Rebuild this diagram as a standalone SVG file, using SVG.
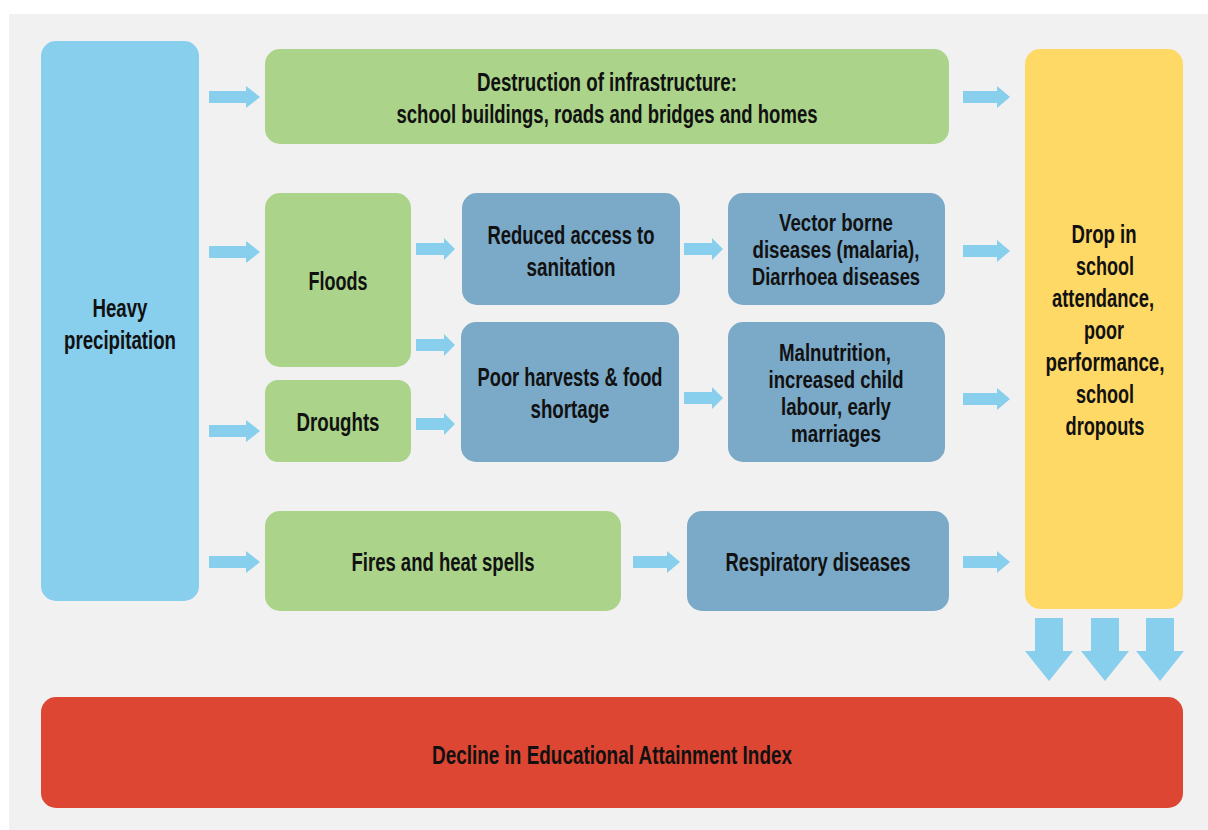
<svg xmlns="http://www.w3.org/2000/svg" width="1208" height="830" viewBox="0 0 1208 830">
  <style>
    .t { font-family: "Liberation Sans", Arial, sans-serif; font-weight: bold; font-size: 26px; fill: #111; text-anchor: middle; }
    .tight { font-size: 23px; }
    .sky { fill: #88CEED; }
    .green { fill: #ABD48A; }
    .steel { fill: #7BA9C8; }
    .yellow { fill: #FFD966; }
    .red { fill: #DC4632; }
    .arrow { fill: #88CEED; }
  </style>
  <defs>
    <!-- right-pointing block arrows, tip at origin -->
    <path id="ra" d="M-51,-6 H-14 V-11 L0,0 L-14,11 V6 H-51 Z"/>
    <path id="ram" d="M-47,-6 H-13 V-11 L0,0 L-13,11 V6 H-47 Z"/>
    <path id="ras" d="M-39,-6 H-11 V-11 L0,0 L-11,11 V6 H-39 Z"/>
    <!-- downward block arrow, tip at origin -->
    <path id="da" d="M-14,-63 H14 V-30 H24 L0,0 L-24,-30 H-14 Z"/>
  </defs>

  <rect x="9" y="14" width="1199" height="816" fill="#F1F1F1"/>

  <g id="heavy-precipitation">
    <rect class="sky" x="41" y="41" width="158" height="560" rx="15"/>
    <text class="t" x="120" y="317" textLength="55" lengthAdjust="spacingAndGlyphs">Heavy</text>
    <text class="t" x="120" y="349" textLength="112" lengthAdjust="spacingAndGlyphs">precipitation</text>
  </g>

  <g id="destruction">
    <rect class="green" x="265" y="49" width="684" height="95" rx="15"/>
    <text class="t" x="607" y="91" textLength="260" lengthAdjust="spacingAndGlyphs">Destruction of infrastructure:</text>
    <text class="t" x="607" y="123" textLength="421" lengthAdjust="spacingAndGlyphs">school buildings, roads and bridges and homes</text>
  </g>

  <g id="floods">
    <rect class="green" x="265" y="193" width="146" height="174" rx="15"/>
    <text class="t" x="338" y="290" textLength="59" lengthAdjust="spacingAndGlyphs">Floods</text>
  </g>

  <g id="droughts">
    <rect class="green" x="265" y="380" width="146" height="82" rx="13"/>
    <text class="t" x="338" y="431" textLength="83" lengthAdjust="spacingAndGlyphs">Droughts</text>
  </g>

  <g id="fires">
    <rect class="green" x="265" y="511" width="356" height="100" rx="15"/>
    <text class="t" x="443" y="571" textLength="183" lengthAdjust="spacingAndGlyphs">Fires and heat spells</text>
  </g>

  <g id="sanitation">
    <rect class="steel" x="462" y="193" width="218" height="112" rx="15"/>
    <text class="t" x="571" y="244" textLength="167" lengthAdjust="spacingAndGlyphs">Reduced access to</text>
    <text class="t" x="571" y="276" textLength="89" lengthAdjust="spacingAndGlyphs">sanitation</text>
  </g>

  <g id="harvests">
    <rect class="steel" x="461" y="322" width="218" height="140" rx="15"/>
    <text class="t" x="570" y="386" textLength="185" lengthAdjust="spacingAndGlyphs">Poor harvests &amp; food</text>
    <text class="t" x="570" y="418" textLength="79" lengthAdjust="spacingAndGlyphs">shortage</text>
  </g>

  <g id="vector-diseases">
    <rect class="steel" x="728" y="193" width="217" height="112" rx="15"/>
    <text class="t tight" x="836" y="231" textLength="114" lengthAdjust="spacingAndGlyphs">Vector borne</text>
    <text class="t tight" x="836" y="258" textLength="167" lengthAdjust="spacingAndGlyphs">diseases (malaria),</text>
    <text class="t tight" x="836" y="285" textLength="168" lengthAdjust="spacingAndGlyphs">Diarrhoea diseases</text>
  </g>

  <g id="malnutrition">
    <rect class="steel" x="728" y="322" width="217" height="140" rx="15"/>
    <text class="t tight" x="835" y="361" textLength="112" lengthAdjust="spacingAndGlyphs">Malnutrition,</text>
    <text class="t tight" x="836" y="388" textLength="135" lengthAdjust="spacingAndGlyphs">increased child</text>
    <text class="t tight" x="836" y="415" textLength="110" lengthAdjust="spacingAndGlyphs">labour, early</text>
    <text class="t tight" x="836" y="442" textLength="90" lengthAdjust="spacingAndGlyphs">marriages</text>
  </g>

  <g id="respiratory">
    <rect class="steel" x="687" y="511" width="262" height="100" rx="15"/>
    <text class="t" x="818" y="571" textLength="185" lengthAdjust="spacingAndGlyphs">Respiratory diseases</text>
  </g>

  <g id="school-outcomes">
    <rect class="yellow" x="1025" y="49" width="158" height="560" rx="15"/>
    <text class="t" x="1104" y="243" textLength="65" lengthAdjust="spacingAndGlyphs">Drop in</text>
    <text class="t" x="1105" y="275" textLength="58" lengthAdjust="spacingAndGlyphs">school</text>
    <text class="t" x="1103" y="307" textLength="102" lengthAdjust="spacingAndGlyphs">attendance,</text>
    <text class="t" x="1104" y="339" textLength="40" lengthAdjust="spacingAndGlyphs">poor</text>
    <text class="t" x="1105" y="371" textLength="119" lengthAdjust="spacingAndGlyphs">performance,</text>
    <text class="t" x="1105" y="403" textLength="58" lengthAdjust="spacingAndGlyphs">school</text>
    <text class="t" x="1105" y="435" textLength="79" lengthAdjust="spacingAndGlyphs">dropouts</text>
  </g>

  <g id="attainment-decline">
    <rect class="red" x="41" y="697" width="1142" height="111" rx="15"/>
    <text class="t" x="612" y="764" textLength="360" lengthAdjust="spacingAndGlyphs">Decline in Educational Attainment Index</text>
  </g>

  <g id="connectors" class="arrow">
    <use href="#ra" x="260" y="97"/>
    <use href="#ra" x="260" y="252"/>
    <use href="#ra" x="260" y="431"/>
    <use href="#ra" x="260" y="562"/>
    <use href="#ras" x="455" y="249"/>
    <use href="#ras" x="455" y="345"/>
    <use href="#ras" x="455" y="424"/>
    <use href="#ras" x="723" y="249"/>
    <use href="#ras" x="723" y="398"/>
    <use href="#ram" x="680" y="562"/>
    <use href="#ram" x="1010" y="97"/>
    <use href="#ram" x="1010" y="251"/>
    <use href="#ram" x="1010" y="399"/>
    <use href="#ram" x="1010" y="562"/>
    <use href="#da" x="1049" y="681"/>
    <use href="#da" x="1105" y="681"/>
    <use href="#da" x="1160" y="681"/>
  </g>
</svg>
